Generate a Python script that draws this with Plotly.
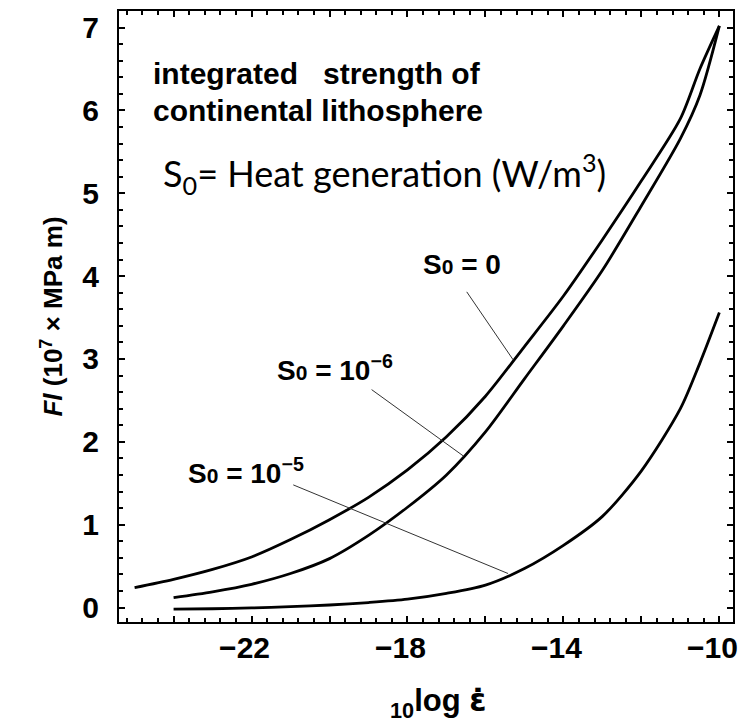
import plotly.graph_objects as go

# ---------------- data ----------------
x_s0_0 = [-25.0, -24.0, -23.0, -22.0, -21.0, -20.0, -19.0, -18.0, -17.0, -16.0, -15.0, -14.0, -13.0, -12.0, -11.0, -10.5, -10.0]
y_s0_0 = [0.24, 0.34, 0.46, 0.61, 0.82, 1.06, 1.33, 1.66, 2.06, 2.55, 3.15, 3.76, 4.44, 5.15, 5.90, 6.50, 7.02]

x_s0_1e6 = [-24.0, -23.0, -22.0, -21.0, -20.0, -19.0, -18.0, -17.0, -16.0, -15.0, -14.0, -13.0, -12.0, -11.0, -10.5, -10.0]
y_s0_1e6 = [0.12, 0.19, 0.28, 0.41, 0.59, 0.87, 1.21, 1.60, 2.12, 2.76, 3.40, 4.07, 4.85, 5.66, 6.18, 7.02]

x_s0_1e5 = [-24.0, -23.0, -22.0, -21.0, -20.0, -19.0, -18.0, -17.0, -16.0, -15.0, -14.0, -13.0, -12.0, -11.0, -10.5, -10.0]
y_s0_1e5 = [-0.02, -0.015, -0.005, 0.01, 0.03, 0.06, 0.10, 0.17, 0.27, 0.47, 0.75, 1.10, 1.65, 2.40, 2.95, 3.56]

X_RANGE = [-25.4, -9.65]
Y_RANGE = [-0.175, 7.2]

# x tick labels: only every second major tick carries a label
x_label_alias = {}
for v in (24, 20, 16, 12):
    x_label_alias["\u2212%d" % v] = ""
    x_label_alias["-%d" % v] = ""

# label texts and their anchor points / leader lines (data coords)
labels = [
    ("S<span style='font-size:21px'>0</span> = 0", -17.66, 4.14),
    ("S<span style='font-size:21px'>0</span> = 10<sup>\u22126</sup>", -21.40, 2.89),
    ("S<span style='font-size:21px'>0</span> = 10<sup>\u22125</sup>", -23.67, 1.65),
]
leader_x0 = [-16.48, -18.92, -20.93]
leader_y0 = [3.81, 2.63, 1.48]
leader_x1 = [-15.29, -16.57, -15.42]
leader_y1 = [2.99, 1.83, 0.41]

BOLD = "Liberation Sans"

fig = go.Figure()
for xs, ys in [(x_s0_0, y_s0_0), (x_s0_1e6, y_s0_1e6), (x_s0_1e5, y_s0_1e5)]:
    fig.add_trace(go.Scatter(x=xs, y=ys, mode="lines",
                             line=dict(color="black", width=2.8, shape="spline", smoothing=0.8),
                             showlegend=False, hoverinfo="skip"))

for i in range(len(leader_x0)):
    fig.add_shape(type="line", xref="x", yref="y",
                  x0=leader_x0[i], y0=leader_y0[i], x1=leader_x1[i], y1=leader_y1[i],
                  line=dict(color="#333333", width=1))

for txt, lx, ly in labels:
    fig.add_annotation(x=lx, y=ly, xref="x", yref="y", text=txt, showarrow=False,
                       xanchor="left", yanchor="middle",
                       font=dict(family=BOLD, size=28, color="black", weight="bold"))

fig.add_annotation(x=-24.59, y=6.44, xref="x", yref="y",
                   text="integrated\u00a0\u00a0 strength of",
                   showarrow=False, xanchor="left", yanchor="middle",
                   font=dict(family=BOLD, size=30, color="black", weight="bold"))
fig.add_annotation(x=-24.59, y=6.0, xref="x", yref="y",
                   text="continental lithosphere",
                   showarrow=False, xanchor="left", yanchor="middle",
                   font=dict(family=BOLD, size=30, color="black", weight="bold"))

fig.add_annotation(x=-24.31, y=5.24, xref="x", yref="y",
                   text="S<sub>0</sub>= Heat generation (W/m<sup>3</sup>)",
                   showarrow=False, xanchor="left", yanchor="middle",
                   font=dict(family="Lato", size=36, color="black"))

# axis titles
fig.add_annotation(x=0.52, y=-0.132, xref="paper", yref="paper",
                   text="<sub>10</sub>log <span style='font-family:DejaVu Sans'>\u03b5\u0307</span>",
                   showarrow=False, xanchor="center", yanchor="middle",
                   font=dict(family=BOLD, size=31, color="black", weight="bold"))
fig.add_annotation(x=-0.109, y=0.5, xref="paper", yref="paper",
                   text="<i>Fl</i> (10<sup>7</sup> \u00d7 MPa m)", textangle=-90,
                   showarrow=False, xanchor="center", yanchor="middle",
                   font=dict(family=BOLD, size=26, color="black", weight="bold"))

tickfont = dict(family=BOLD, size=30, color="black", weight="bold")
fig.update_layout(
    xaxis=dict(range=X_RANGE, tickmode="linear", tick0=-24, dtick=2, labelalias=x_label_alias,
               showline=True, linecolor="black", linewidth=2, mirror="allticks",
               ticks="inside", ticklen=6, tickwidth=2, tickcolor="black",
               minor=dict(ticks="inside", ticklen=4, tickwidth=1.5, tickcolor="black",
                          tick0=-24, dtick=0.4, showgrid=False),
               ticklabelstandoff=-2, ticklabelshift=-7,
               showgrid=False, zeroline=False, tickfont=tickfont),
    yaxis=dict(range=Y_RANGE, tickmode="linear", tick0=0, dtick=1,
               showline=True, linecolor="black", linewidth=2, mirror="allticks",
               ticks="inside", ticklen=6, tickwidth=2, tickcolor="black",
               minor=dict(ticks="inside", ticklen=4, tickwidth=1.5, tickcolor="black",
                          tick0=0, dtick=0.2, showgrid=False),
               ticklabelstandoff=12, showgrid=False, zeroline=False, tickfont=tickfont),
)

# the page body has an 8px margin: the figure is sized/offset to compensate
fig.update_layout(width=748, height=715, margin=dict(l=111, r=23, t=1, b=101),
                  plot_bgcolor="white", paper_bgcolor="white")

fig.write_html("out.html")
